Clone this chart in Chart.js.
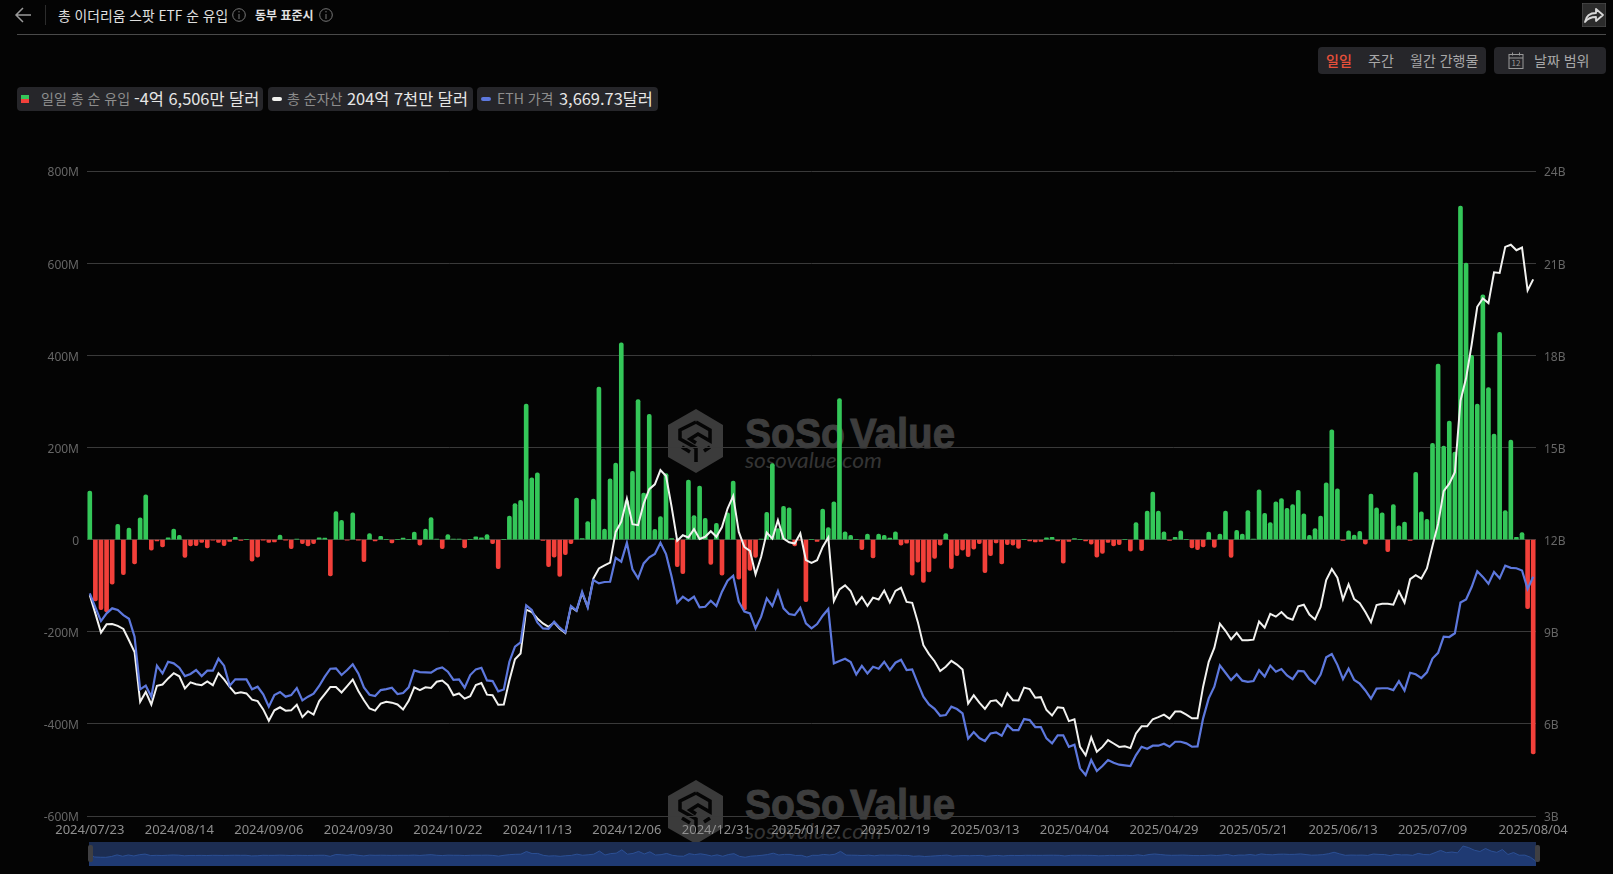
<!DOCTYPE html>
<html lang="ko">
<head>
<meta charset="utf-8">
<title>총 이더리움 스팟 ETF 순 유입</title>
<script src="https://cdn.jsdelivr.net/npm/chart.js@4"></script>
<style>
  html, body { margin: 0; width: 1613px; height: 874px; background: #040404; overflow: hidden; }
  body { position: relative; font-family: "Noto Sans CJK KR", "Noto Sans", sans-serif; color: #ddd; }
  .abs { position: absolute; white-space: nowrap; }
  #main { position: absolute; left: 0; top: 0; z-index: 2; }
  #mini { position: absolute; left: 89px; top: 842px; z-index: 2; background: #1c2d52; }
  .wm { position: absolute; left: 660px; z-index: 1; }
  .pill { position: absolute; top: 87px; height: 24px; background: #26262a; border-radius: 4px; line-height: 22px; font-size: 14px; color: #8d8d8d; white-space: nowrap; }
  .pill b { font-weight: 400; font-size: 16.4px; color: #e6e6e6; }
  .dash { position: absolute; top: 10px; width: 10px; height: 4px; border-radius: 2px; }
  .btn { position: absolute; top: 47px; height: 27px; background: #26262a; border-radius: 4px; }
  .btn span { position: absolute; top: 0; line-height: 27px; font-size: 14px; color: #a8a8a8; white-space: nowrap; }
  .handle { position: absolute; top: 845px; width: 5px; height: 17px; background: #3f3f42; border-radius: 2px; z-index: 3; }
</style>
</head>
<body>
  <svg class="abs" style="left:14px;top:6px" width="20" height="18" viewBox="0 0 20 18" fill="none" stroke="#9a9a9a" stroke-width="1.5"><path d="M17 9H2M9 2 2 9l7 7"/></svg>
  <div class="abs" style="left:45px;top:5px;width:1px;height:20px;background:#2c2c2c"></div>
  <div class="abs" style="left:58px;top:5px;font-size:13.8px;line-height:20px;color:#e0e0e0">총 이더리움 스팟 ETF 순 유입</div>
  <svg class="abs" style="left:232px;top:8px" width="14" height="14" viewBox="0 0 14 14" fill="none" stroke="#777"><circle cx="7" cy="7" r="6.3"/><path d="M7 6v5M7 3v1.4"/></svg>
  <div class="abs" style="left:255px;top:5px;font-size:12px;line-height:20px;font-weight:700;color:#e0e0e0">동부 표준시</div>
  <svg class="abs" style="left:319px;top:8px" width="14" height="14" viewBox="0 0 14 14" fill="none" stroke="#777"><circle cx="7" cy="7" r="6.3"/><path d="M7 6v5M7 3v1.4"/></svg>
  <div class="abs" style="left:17px;top:34px;width:1589px;height:1px;background:#4a4a4a"></div>

  <svg class="abs" style="left:1582px;top:3px" width="24" height="24" viewBox="0 0 24 24" fill="none"><rect width="24" height="24" fill="#2b2b2b" stroke="#555"/><path d="M3 19c1-6 5-9 11-9V6l7 6-7 6v-4c-5 0-8 1-11 5z" stroke="#d8d8d8" stroke-width="1.8" stroke-linejoin="round"/></svg>

  <div class="btn" style="left:1318px;width:168px">
    <span style="left:8px;color:#e8503a;font-weight:500">일일</span>
    <span style="left:50px">주간</span>
    <span style="left:92px">월간 간행물</span>
  </div>
  <div class="btn" style="left:1494px;width:112px">
    <svg class="abs" style="left:14px;top:5px" width="16" height="17" viewBox="0 0 16 17" fill="none" stroke="#999"><rect x="1" y="2.5" width="14" height="14"/><path d="M1 6h14M4.5 0.5v3M11.5 0.5v3"/><text x="8" y="14" font-size="8" fill="#999" stroke="none" text-anchor="middle">12</text></svg>
    <span style="left:40px">날짜 범위</span>
  </div>

  <div class="pill" style="left:17px;width:246px">
    <span class="abs" style="left:4px;top:8px;width:8px;height:4px;background:#34c759"></span>
    <span class="abs" style="left:4px;top:12px;width:8px;height:4px;background:#f2403a"></span>
    <span class="abs" style="left:24px">일일 총 순 유입</span>
    <b class="abs" style="left:117px">-4억 6,506만 달러</b>
  </div>
  <div class="pill" style="left:268px;width:205px">
    <span class="dash" style="left:4px;background:#f2f2f0"></span>
    <span class="abs" style="left:19px">총 순자산</span>
    <b class="abs" style="left:79px">204억 7천만 달러</b>
  </div>
  <div class="pill" style="left:477px;width:181px">
    <span class="dash" style="left:4px;background:#5d78dd"></span>
    <span class="abs" style="left:20px">ETH 가격</span>
    <b class="abs" style="left:82px">3,669.73달러</b>
  </div>

  <div class="wm" style="top:400px" id="wm1"></div>
  <div class="wm" style="top:771px" id="wm2"></div>

  <canvas id="main" width="1613" height="874"></canvas>
  <canvas id="mini" width="1447" height="24"></canvas>
  <div class="handle" style="left:88px"></div>
  <div class="handle" style="left:1535px"></div>

<script>
// axis labels, placed on every 16th trading day plus the last one
const tickLabels = ['2024/07/23','2024/08/14','2024/09/06','2024/09/30','2024/10/22','2024/11/13','2024/12/06','2024/12/31','2025/01/27','2025/02/19','2025/03/13','2025/04/04','2025/04/29','2025/05/21','2025/06/13','2025/07/09','2025/08/04'];
const tickIndexes = [0,16,32,48,64,80,96,112,128,144,160,176,192,208,224,240,258];

// daily net inflow, million USD
const netFlow = [
  105,-133,-152,-157,-97,33,-76,25,-53,47,
  97,-23,-3,-16,4,23,9,-39,-14,-13,
  -6,-18,-1,-6,-13,-4,5,-2,0,-47,
  -38,-0.5,-6,-5,10,-0.5,-20,1,-9,-14,
  -9,4,3,-79,61,42,-1,58,-0.5,-48,
  13,-3,7,0,-7,0,3,0,16,-12,
  23,48,1,-20,11,1,1,-18,0,6,
  4,11,-9,-63,0,51,78,85,294,134,
  145,-2,-59,-38,-80,-33,-9,90,2,39,
  88,331,23,132,166,427,85,148,304,101,
  272,22,50,143,2,-59,-74,129,52,116,
  46,-54,35,-77,58,127,-86,-153,-67,-39,
  1,59,165,24,72,69,-14,-1,-135,0,
  -4,66,26,82,306,17,9,0,-22,12,
  -40,12,9,3,17,-12,-8,-77,-49,-93,
  -70,-41,-12,13,-63,-35,-23,-37,-21,-9,
  -72,-35,-7,-53,-11,-12,-19,0,-3,-5,
  -4,4,5,-3,-51,-4,2,0,-3,-10,
  -38,-30,-6,-14,-11,0,-25,37,-24,62,
  103,62,17,-2,5,19,0,-18,-22,-16,
  16,-17,12,62,-39,20,12,63,1,108,
  57,37,82,89,68,76,107,56,9,24,
  51,123,238,110,-2,19,10,18,-10,99,
  69,58,-26,76,30,38,-2,146,60,44,
  209,381,203,257,190,724,600,400,294,531,
  330,229,450,63,216,5,15,-150,-465.06
];

// total net assets, billion USD
const totalAssets = [
  10.19,9.59,8.97,9.24,9.25,9.19,9.09,8.72,8.34,6.72,
  7.04,6.63,7.24,7.28,7.48,7.65,7.55,7.15,7.35,7.29,
  7.26,7.38,7.26,7.65,7.45,7.20,6.99,7.03,6.99,6.79,
  6.74,6.47,6.10,6.44,6.54,6.43,6.44,6.62,6.22,6.41,
  6.30,6.74,6.97,7.20,7.20,7.02,7.23,7.44,7.07,6.77,
  6.50,6.43,6.66,6.72,6.69,6.63,6.47,6.75,7.19,7.10,
  7.19,7.17,7.37,7.41,7.26,6.93,6.99,6.82,6.90,7.26,
  7.33,6.95,6.93,6.62,6.63,7.42,8.10,8.29,9.72,9.64,
  9.43,9.27,9.16,9.30,9.10,8.96,9.81,9.68,10.26,9.81,
  10.73,11.06,11.16,11.25,12.25,12.58,13.33,12.50,12.47,13.17,
  13.64,13.80,14.26,14.07,13.06,11.96,12.14,12.07,12.34,12.02,
  12.09,12.27,12.09,12.41,13.01,13.42,12.25,11.76,11.63,10.87,
  11.44,12.23,12.03,12.63,12.03,11.91,11.87,12.20,11.33,11.24,
  11.33,11.76,12.07,10.00,10.38,10.51,10.32,9.90,10.13,9.84,
  10.11,10.05,10.34,9.95,10.33,10.43,9.97,9.94,9.32,8.56,
  8.27,8.04,7.72,7.86,8.05,7.93,7.77,6.66,6.93,6.69,
  6.49,6.74,6.77,6.58,7.00,6.77,6.76,7.18,7.13,6.85,
  6.87,6.45,6.27,6.54,6.52,6.09,6.15,5.25,4.98,5.56,
  5.09,5.25,5.47,5.36,5.25,5.27,5.21,5.69,5.92,5.92,
  6.15,6.22,6.30,6.17,6.40,6.40,6.30,6.18,6.18,7.21,
  8.02,8.47,9.26,9.03,8.75,8.96,8.72,8.72,8.74,9.33,
  9.13,9.58,9.49,9.64,9.46,9.39,9.83,9.88,9.56,9.40,
  9.81,10.68,11.04,10.76,10.05,10.54,10.06,9.93,9.64,9.31,
  9.87,9.91,9.91,9.88,10.31,9.95,10.71,10.84,10.73,11.06,
  11.80,12.51,13.58,13.82,14.19,16.52,17.25,18.35,19.58,19.85,
  19.70,20.70,20.68,21.53,21.60,21.42,21.51,20.11,20.47
];

// ETH price, USD (its axis is hidden)
const ethPrice = [
  3485,3329,3176,3262,3318,3299,3243,3202,3001,2414,
  2455,2332,2678,2592,2722,2704,2655,2562,2585,2629,
  2562,2622,2622,2756,2678,2455,2525,2525,2525,2414,
  2443,2358,2220,2350,2384,2332,2350,2428,2291,2332,
  2365,2451,2555,2644,2648,2574,2629,2693,2592,2436,
  2354,2339,2406,2417,2432,2362,2373,2436,2626,2607,
  2603,2600,2641,2659,2611,2520,2525,2432,2573,2637,
  2655,2514,2506,2391,2413,2722,2890,2938,3351,3299,
  3161,3094,3090,3169,3102,3050,3344,3292,3504,3329,
  3634,3597,3612,3615,3883,3839,4051,3753,3653,3820,
  3887,3924,4051,3924,3671,3381,3448,3403,3448,3329,
  3336,3403,3344,3504,3627,3682,3392,3281,3262,3095,
  3225,3429,3344,3511,3318,3255,3243,3325,3150,3095,
  3143,3236,3310,2704,2730,2756,2719,2581,2676,2592,
  2666,2644,2722,2629,2711,2744,2629,2636,2480,2331,
  2246,2197,2119,2127,2220,2194,2145,1863,1937,1870,
  1837,1922,1933,1896,2019,1959,1959,2082,2071,1993,
  1993,1866,1811,1900,1900,1773,1796,1532,1457,1625,
  1502,1558,1625,1595,1573,1565,1558,1680,1773,1751,
  1785,1785,1807,1773,1829,1829,1811,1773,1777,2090,
  2313,2443,2681,2599,2517,2583,2511,2498,2506,2628,
  2557,2679,2611,2641,2569,2527,2620,2615,2527,2477,
  2578,2771,2809,2687,2527,2645,2519,2477,2401,2309,
  2422,2426,2426,2405,2506,2401,2599,2582,2540,2603,
  2758,2821,3002,2998,3040,3384,3418,3556,3732,3669,
  3594,3724,3653,3795,3770,3766,3741,3535,3669.73
];

const categories = netFlow.map((_, i) => i);
const GREEN = '#34c759';
const RED = '#f2403a';

// watermark sits behind the canvas, grid and bars run over it
const wmSvg = `<svg width="310" height="80" viewBox="0 0 310 80">
  <path d="M36 9 63 25V57L36 73 8 57V25Z" fill="#3b3b3b"/>
  <path d="M36 22 50 30V41L38 34 30 39 36 43M36 62V48L20 39V30L36 22M22 47 30 52M50 47 44 51" fill="none" stroke="#050505" stroke-width="3.5"/>
  <g font-family="Liberation Sans" font-weight="700" font-size="42" fill="#3d3d3d" stroke="#3d3d3d" stroke-width="1">
    <text x="85" y="48" textLength="100" lengthAdjust="spacingAndGlyphs">SoSo</text>
    <text x="190" y="48" textLength="105" lengthAdjust="spacingAndGlyphs">Value</text>
  </g>
  <text x="85" y="68" font-family="Lato, Liberation Sans" font-style="italic" font-size="21" fill="#343434" textLength="137" lengthAdjust="spacingAndGlyphs">sosovalue.com</text>
</svg>`;
document.getElementById('wm1').innerHTML = wmSvg;
document.getElementById('wm2').innerHTML = wmSvg;

new Chart(document.getElementById('main'), {
  data: {
    labels: categories,
    datasets: [
      {
        type: 'bar',
        data: netFlow,
        yAxisID: 'y',
        order: 3,
        barThickness: 4,
        borderRadius: 2,
        backgroundColor: netFlow.map(v => v >= 0 ? GREEN : RED)
      },
      {
        type: 'line',
        data: totalAssets,
        yAxisID: 'y1',
        order: 2,
        borderColor: '#f2f2f0',
        borderWidth: 2,
        pointRadius: 0,
        tension: 0
      },
      {
        type: 'line',
        data: ethPrice,
        yAxisID: 'y2',
        order: 1,
        borderColor: '#5d78dd',
        borderWidth: 2.2,
        pointRadius: 0,
        tension: 0
      }
    ]
  },
  options: {
    responsive: false,
    animation: false,
    layout: { padding: { top: 171 } },
    plugins: { legend: { display: false }, tooltip: { enabled: false } },
    scales: {
      x: {
        offset: true,
        grid: { display: false, drawTicks: false },
        border: { display: false },
        afterFit: s => { s.height = 58; },
        ticks: {
          autoSkip: false,
          maxRotation: 0,
          minRotation: 0,
          padding: 6,
          color: '#8f8f8f',
          font: { family: 'Noto Sans', size: 13 },
          callback: (v, i) => {
            const pos = tickIndexes.indexOf(i);
            return pos < 0 ? '' : tickLabels[pos];
          }
        }
      },
      y: {
        position: 'left',
        min: -600,
        max: 800,
        grid: { color: '#3a3a3a', drawTicks: false },
        border: { display: false },
        afterFit: s => { s.width = 87; },
        ticks: {
          stepSize: 200,
          padding: 8,
          labelOffset: 2,
          color: '#666',
          font: { family: 'Noto Sans', size: 12 },
          callback: v => v === 0 ? '0' : v + 'M'
        }
      },
      y1: {
        position: 'right',
        min: 3,
        max: 24,
        grid: { display: false, drawTicks: false },
        border: { display: false },
        afterFit: s => { s.width = 77; },
        ticks: {
          stepSize: 3,
          padding: 8,
          labelOffset: 2,
          color: '#666',
          font: { family: 'Noto Sans', size: 12 },
          callback: v => v + 'B'
        }
      },
      y2: { display: false, min: 1000, max: 8200 }
    }
  }
});

// range slider strip under the chart
new Chart(document.getElementById('mini'), {
  type: 'line',
  data: {
    labels: categories,
    datasets: [{
      data: netFlow,
      borderColor: '#2b4f94',
      borderWidth: 1,
      backgroundColor: '#1f3a73',
      fill: 'start',
      pointRadius: 0,
      tension: 0
    }]
  },
  options: {
    responsive: false,
    animation: false,
    plugins: { legend: { display: false }, tooltip: { enabled: false } },
    scales: {
      x: { display: false },
      y: { display: false, min: -836, max: 1040 }
    }
  }
});
</script>
</body>
</html>
